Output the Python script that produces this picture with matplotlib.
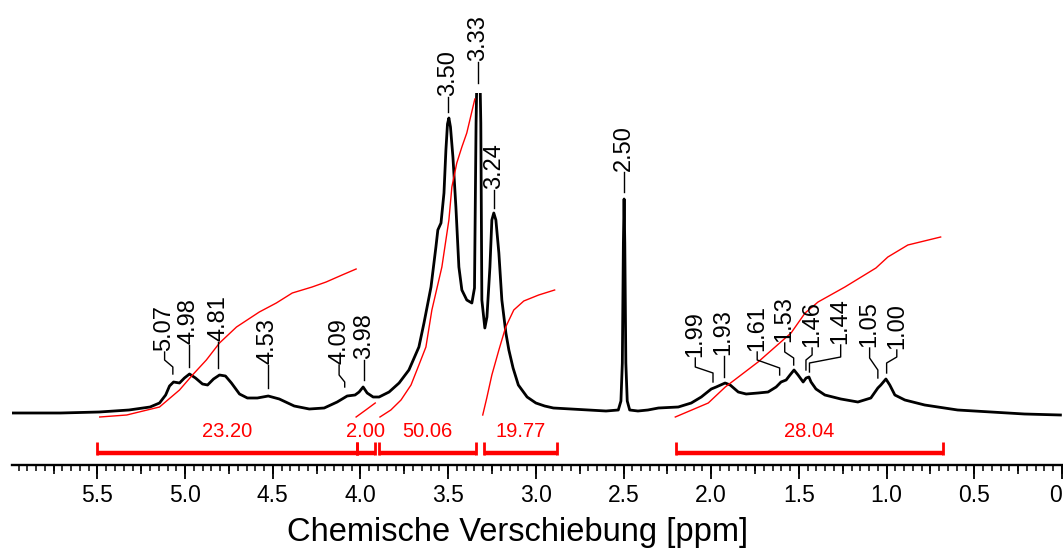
import numpy as np
import matplotlib
matplotlib.use('Agg')  # no display
import matplotlib.pyplot as plt
from matplotlib.ticker import MultipleLocator

plt.rcParams['font.family'] = ['Liberation Sans', 'DejaVu Sans']

# 1H spectrum (ppm, intensity in arbitrary units, 3.33 peak runs off the top)
spec_ppm = [6.00, 5.71, 5.49, 5.32, 5.20, 5.146, 5.111, 5.089, 5.066, 5.032, 5.004, 4.975,
            4.941, 4.901, 4.872, 4.838, 4.804, 4.770, 4.736, 4.690, 4.645, 4.588, 4.526,
            4.463, 4.378, 4.292, 4.207, 4.133, 4.076, 4.031, 4.008, 3.985, 3.962, 3.928,
            3.894, 3.837, 3.780, 3.724, 3.667, 3.638, 3.598, 3.570, 3.559, 3.541, 3.524,
            3.513, 3.504, 3.496, 3.487, 3.473, 3.456, 3.439, 3.422, 3.394, 3.365, 3.350,
            3.341, 3.334, 3.321, 3.314, 3.308, 3.291, 3.279, 3.262, 3.251, 3.240, 3.228,
            3.211, 3.194, 3.171, 3.154, 3.130, 3.100, 3.050, 3.000, 2.950, 2.900, 2.800,
            2.700, 2.600, 2.530, 2.515, 2.507, 2.501, 2.497, 2.493, 2.487, 2.479, 2.465,
            2.418, 2.361, 2.301, 2.188, 2.114, 2.057, 2.000, 1.972, 1.921, 1.892, 1.846,
            1.801, 1.733, 1.676, 1.630, 1.602, 1.573, 1.551, 1.528, 1.505, 1.476, 1.459,
            1.443, 1.431, 1.403, 1.352, 1.261, 1.164, 1.090, 1.050, 1.033, 1.004, 0.982,
            0.953, 0.896, 0.783, 0.595, 0.407, 0.214, 0.009]
spec_int = [0, 0, 1, 3, 6, 10, 18, 27, 31, 30, 35, 39,
            35, 29, 28, 34, 38, 37, 30, 19, 15, 15, 17,
            14, 7, 4, 5, 11, 17, 18, 21, 26, 20, 16,
            16, 21, 30, 43, 66, 90, 126, 166, 183, 190, 220,
            263, 289, 295, 286, 256, 206, 146, 123, 113, 110, 125,
            290, 360, 360, 290, 113, 85, 96, 146, 193, 200, 193,
            160, 113, 80, 63, 45, 28, 16, 10, 7, 5, 4,
            3, 2, 3, 12, 50, 170, 214, 170, 50, 12, 3,
            2, 3, 5, 6, 10, 16, 24, 26, 30, 28, 21,
            19, 20, 21, 26, 31, 33, 38, 43, 38, 31, 35,
            36, 31, 24, 18, 14, 11, 15, 25, 28, 34, 28,
            18, 13, 8, 3, 1, -1, -2]

# integral regions
integ_start = [5.50, 4.02, 3.894, 3.297, 2.20]
integ_end = [4.02, 3.92, 3.344, 2.88, 0.68]
integ_values = ['23.20', '2.00', '50.06', '19.77', '28.04']

# integral curves
int1_ppm = [5.487, 5.333, 5.146, 5.032, 4.958, 4.879, 4.804, 4.707, 4.577, 4.480, 4.389,
            4.276, 4.196, 4.105, 4.025]
int1_val = [-4, -2, 6, 23, 38, 53, 70, 86, 101, 110, 120, 126, 131, 138, 144]
int2_ppm = [4.025, 3.970, 3.916]
int2_val = [-4, 3, 10]
int3_ppm = [3.889, 3.827, 3.769, 3.712, 3.667, 3.627, 3.593, 3.536, 3.496, 3.479, 3.451,
            3.422, 3.394, 3.348]
int3_val = [-4, 3, 13, 28, 48, 66, 103, 146, 193, 226, 250, 266, 280, 314]
int4_ppm = [3.303, 3.280, 3.251, 3.211, 3.172, 3.126, 3.069, 2.984, 2.893]
int4_val = [-2, 15, 38, 63, 86, 103, 112, 118, 123]
int5_ppm = [2.205, 2.017, 1.920, 1.733, 1.545, 1.465, 1.391, 1.238, 1.061, 0.993, 0.879, 0.692]
int5_val = [-4, 10, 26, 51, 80, 100, 111, 126, 145, 156, 168, 176]

# peak labels
peak_labels = ['5.07', '4.98', '4.81', '4.53', '4.09', '3.98', '3.50', '3.33', '3.24', '2.50',
               '1.99', '1.93', '1.61', '1.53', '1.46', '1.44', '1.05', '1.00']

# label layout: text position and connector heights
lab_x = [5.117, 4.98, 4.81, 4.53, 4.122, 3.98, 3.50, 3.33, 3.24, 2.50,
         2.091, 1.93, 1.738, 1.581, 1.425, 1.262, 1.097, 0.942]
lab_tip = [39, 46, 45, 25, 26, 33, 301, 330, 205, 221, 31, 36, 38, 48, 43, 41, 35, 40]
lab_e1 = [46, 46, 45, 25, 31, 33, 301, 330, 205, 221, 40, 36, 45, 55, 53, 50, 43, 50]
lab_e2 = [53, 46, 45, 25, 38, 33, 301, 330, 205, 221, 46, 36, 53, 61, 58, 56, 55, 56]
lab_top = [61, 68, 71, 48, 48, 53, 316, 351, 223, 241, 55, 57, 61, 70, 65, 68, 65, 63]

RED = '#ff0000'

fig = plt.figure(figsize=(10.63, 5.49), dpi=100)
ax = fig.add_axes([11.5 / 1063, 84 / 549, 1050.5 / 1063, 372 / 549])
XLIM = (5.99, 0.0)
ax.set_xlim(*XLIM)
ax.set_ylim(-52, 320)

ax.plot(spec_ppm, spec_int, color='black', lw=2.0, solid_joinstyle='round')

for xs, ys in [(int1_ppm, int1_val), (int2_ppm, int2_val), (int3_ppm, int3_val),
               (int4_ppm, int4_val), (int5_ppm, int5_val)]:
    ax.plot(xs, ys, color=RED, lw=1.0)

# integral brackets + values
for a, b, v in zip(integ_start, integ_end, integ_values):
    ax.plot([a, b], [-40, -40], color=RED, lw=3.2, solid_capstyle='butt', clip_on=False)
    ax.plot([a, a], [-29, -42], color=RED, lw=2.0, solid_capstyle='butt', clip_on=False)
    ax.plot([b, b], [-29, -42], color=RED, lw=2.0, solid_capstyle='butt', clip_on=False)
    ax.text((a + b) / 2, -24, v, color=RED, fontsize=14.5, ha='center', va='baseline')

# peak labels with connectors
for lab, tx, t, e1, e2, top in zip(peak_labels, lab_x, lab_tip, lab_e1, lab_e2, lab_top):
    p = float(lab)
    ax.plot([p, p, tx, tx], [t, e1, e2, top], color='black', lw=1.0, clip_on=False)
    ax.text(tx, top + 1, lab, rotation=90, fontsize=17, ha='center', va='bottom',
            clip_on=False)

for s in ['top', 'left', 'right']:
    ax.spines[s].set_visible(False)
ax.spines['bottom'].set_linewidth(1.7)
ax.set_yticks([])

tick_pos = [5.5, 5.0, 4.5, 4.0, 3.5, 3.0, 2.5, 2.0, 1.5, 1.0, 0.5, 0.0]
ax.set_xticks(tick_pos)
labels = ax.set_xticklabels(['0' if t == 0 else '%.1f' % t for t in tick_pos])
labels[-1].set_ha('right')
ax.xaxis.set_minor_locator(MultipleLocator(0.05))
ax.tick_params(axis='x', which='major', direction='out', length=10, width=1.3,
               labelsize=16.5, pad=4)
ax.tick_params(axis='x', which='minor', direction='out', length=4.5, width=1.1)
ax.set_xlim(*XLIM)

# medium ticks every 0.25 ppm
sec = ax.secondary_xaxis('bottom')
sec.spines['bottom'].set_visible(False)
sec.xaxis.set_major_locator(MultipleLocator(0.25))
sec.xaxis.set_minor_locator(MultipleLocator(10))
sec.tick_params(axis='x', which='major', direction='out', length=6.5, width=1.2,
                labelbottom=False)

fig.text(518 / 1063, 8 / 549, 'Chemische Verschiebung [ppm]', fontsize=23.5,
         ha='center', va='baseline')

fig.savefig('out.png', dpi=100)
